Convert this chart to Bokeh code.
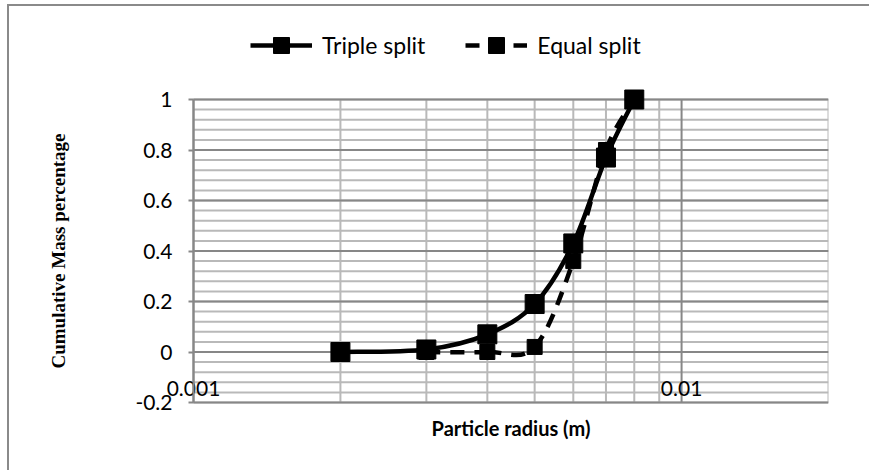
import numpy as np
from bokeh.plotting import figure
from bokeh.models import Range1d, FixedTicker, Legend, LegendItem
from bokeh.core.properties import value
from bokeh.embed import file_html
from bokeh.resources import INLINE

# particle radius (m) and cumulative mass fraction for each splitting scheme
radius_triple = [0.002, 0.003, 0.004, 0.005, 0.006, 0.007, 0.008]
mass_triple = [0.0, 0.01, 0.07, 0.19, 0.43, 0.77, 1.0]

radius_equal = [0.003, 0.004, 0.005, 0.006, 0.007, 0.008]
mass_equal = [0.0, 0.0, 0.02, 0.36, 0.80, 1.0]

y_ticks = [-0.2, 0, 0.2, 0.4, 0.6, 0.8, 1.0]
y_labels = ["-0.2", "0", "0.2", "0.4", "0.6", "0.8", "1"]
y_minor = [round(-0.2 + 0.04 * k, 2) for k in range(31)]
x_ticks = [0.001, 0.01]
x_labels = ["0.001", "0.01"]
x_minor = [0.002, 0.003, 0.004, 0.005, 0.006, 0.007, 0.008, 0.009]
x_end = 0.02

FONT = "Lato"
GRID_MAJOR = "#878787"
GRID_MINOR = "#b9b9b9"

# gridded area is 635 x 303 px; the frame runs past it on the left (tick
# labels, y title), above (legend) and below (x labels, title)
AREA_W, AREA_H = 635, 303
PAD_LEFT, PAD_TOP, PAD_BOTTOM = 164, 71, 70
per_px = (y_ticks[-1] - y_ticks[0]) / AREA_H
y_start = y_ticks[0] - PAD_BOTTOM * per_px
y_stop = y_ticks[-1] + PAD_TOP * per_px
px_per_decade = AREA_W / np.log10(x_end / x_ticks[0])
x_start = x_ticks[0] * 10 ** (-PAD_LEFT / px_per_decade)


def smooth_segments(xs, ys):
    """Catmull-Rom style cubic Bezier segments, built in (log10 x, y) space."""
    lx = np.log10(np.asarray(xs, dtype=float))
    yy = np.asarray(ys, dtype=float)
    n = len(lx)
    seg = {k: [] for k in ("x0", "y0", "x1", "y1", "cx0", "cy0", "cx1", "cy1")}
    for i in range(n - 1):
        a = max(i - 1, 0)
        d = min(i + 2, n - 1)
        c0x = lx[i] + (lx[i + 1] - lx[a]) / 6.0
        c0y = yy[i] + (yy[i + 1] - yy[a]) / 6.0
        c1x = lx[i + 1] - (lx[d] - lx[i]) / 6.0
        c1y = yy[i + 1] - (yy[d] - yy[i]) / 6.0
        seg["x0"].append(10 ** lx[i]); seg["y0"].append(yy[i])
        seg["x1"].append(10 ** lx[i + 1]); seg["y1"].append(yy[i + 1])
        seg["cx0"].append(10 ** c0x); seg["cy0"].append(c0y)
        seg["cx1"].append(10 ** c1x); seg["cy1"].append(c1y)
    return seg


p = figure(width=862, height=466, x_axis_type="log",
           x_range=Range1d(x_start, x_end), y_range=Range1d(y_start, y_stop),
           output_backend="svg", toolbar_location=None,
           min_border_left=184 - PAD_LEFT, min_border_right=43,
           min_border_top=22, min_border_bottom=0)
# chart border on the outer box
p.margin = (4, 0, 0, 7)
p.styles = {"border-left": "2px solid #8a8a8a", "border-top": "2px solid #8a8a8a"}
p.background_fill_color = "white"
p.border_fill_color = "white"
p.outline_line_color = None

# y axis, pinned to the left edge of the gridded area
yt = FixedTicker(ticks=y_ticks, minor_ticks=y_minor)
p.yaxis.ticker = yt
p.yaxis.fixed_location = x_ticks[0]
p.yaxis.bounds = (y_ticks[0], y_ticks[-1])
p.yaxis.major_label_overrides = {t: s for t, s in zip(y_ticks, y_labels)}
p.yaxis.axis_line_color = GRID_MAJOR
p.yaxis.axis_line_width = 2
p.yaxis.major_tick_line_color = GRID_MAJOR
p.yaxis.major_tick_line_width = 2
p.yaxis.major_tick_out = 5
p.yaxis.major_tick_in = 0
p.yaxis.minor_tick_line_color = None
p.yaxis.major_label_text_font = FONT
p.yaxis.major_label_text_font_size = "21px"
p.yaxis.major_label_text_color = "black"
p.yaxis.major_label_standoff = 16

# the x axis is drawn inside the frame: tick labels and title as text
p.xaxis.visible = False
p.xgrid.visible = False
p.ygrid.visible = False

# grid, limited to the gridded area
p.segment(x0=x_ticks[0], y0=y_minor, x1=x_end, y1=y_minor,
          line_color=GRID_MINOR, line_width=2)
p.segment(x0=x_minor + [x_end], y0=y_ticks[0], x1=x_minor + [x_end], y1=y_ticks[-1],
          line_color=GRID_MINOR, line_width=2)
p.segment(x0=x_ticks[0], y0=y_ticks, x1=x_end, y1=y_ticks,
          line_color=GRID_MAJOR, line_width=2)
p.segment(x0=x_ticks, y0=y_ticks[0], x1=x_ticks, y1=y_ticks[-1],
          line_color=GRID_MAJOR, line_width=2)

p.text(x=x_ticks, y=[y_ticks[0]] * len(x_ticks), text=x_labels,
       text_font=value(FONT), text_font_size="21px", text_color="black",
       text_align="center", text_baseline="middle", y_offset=-14)
p.text(x=[np.sqrt(x_ticks[0] * x_end)], y=[y_ticks[0]], text=["Particle radius (m)"],
       text_font=value(FONT), text_font_size="20px", text_font_style="bold",
       text_color="black", text_align="center", text_baseline="middle",
       y_offset=25)

# vertical y title, centred on the gridded area
p.text(x=[x_ticks[0]], y=[(y_ticks[0] + y_ticks[-1]) / 2],
       text=["Cumulative Mass percentage"], angle=np.pi / 2,
       text_font=value("Liberation Serif"), text_font_size="19px",
       text_font_style="bold", text_color="black",
       text_align="center", text_baseline="middle", x_offset=-135)

# series
st = smooth_segments(radius_triple, mass_triple)
se = smooth_segments(radius_equal, mass_equal)

eq_line = p.bezier(x0=se["x0"], y0=se["y0"], x1=se["x1"], y1=se["y1"],
                   cx0=se["cx0"], cy0=se["cy0"], cx1=se["cx1"], cy1=se["cy1"],
                   line_color="black", line_width=4.5, line_dash="14 10")
eq_pts = p.scatter(radius_equal, mass_equal, marker="square", size=15,
                   fill_color="black", line_color="black")
tr_line = p.bezier(x0=st["x0"], y0=st["y0"], x1=st["x1"], y1=st["y1"],
                   cx0=st["cx0"], cy0=st["cy0"], cx1=st["cx1"], cy1=st["cy1"],
                   line_color="black", line_width=4.5)
tr_pts = p.scatter(radius_triple, mass_triple, marker="square", size=19,
                   fill_color="black", line_color="black")

legend = Legend(items=[LegendItem(label="Triple split", renderers=[tr_line, tr_pts]),
                       LegendItem(label="Equal split", renderers=[eq_line, eq_pts])],
                orientation="horizontal", location=(57 + PAD_LEFT, 407),
                glyph_width=62, glyph_height=40, label_standoff=10, spacing=40,
                padding=0, margin=0, border_line_color=None,
                background_fill_alpha=0,
                label_text_font=FONT, label_text_font_size="23px",
                label_text_color="black")
p.add_layout(legend, "center")

open("out.html", "w").write(file_html(p, INLINE))
